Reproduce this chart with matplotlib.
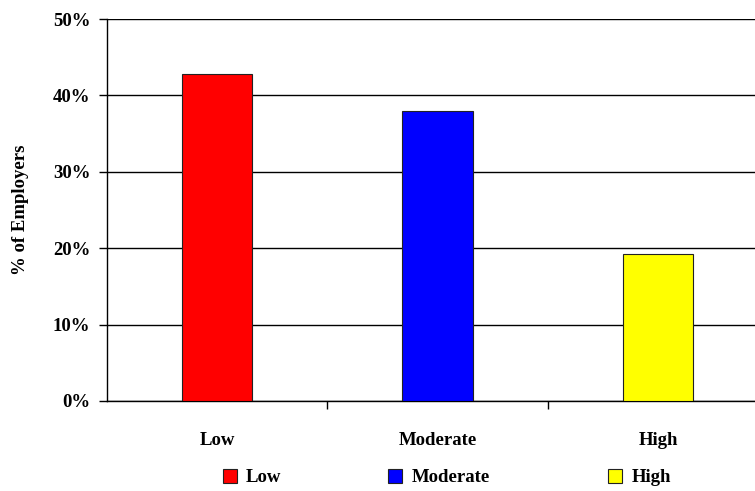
import matplotlib
matplotlib.use("Agg")
import matplotlib.pyplot as plt
from matplotlib.patches import Patch
from matplotlib.ticker import FixedLocator, PercentFormatter

categories = ["Low", "Moderate", "High"]
values = [42.8, 38.0, 19.2]
colors = ["#ff0000", "#0000ff", "#ffff00"]
yticks = [0, 10, 20, 30, 40, 50]

plt.rcParams["font.family"] = ["Liberation Serif", "DejaVu Serif"]
plt.rcParams["font.weight"] = "bold"

fig = plt.figure(figsize=(7.55, 4.91), dpi=100)
ax = fig.add_axes([0.1417, 0.1833, 0.876, 0.778])

x = range(len(categories))
ax.bar(x, values, width=0.32, color=colors, edgecolor="#222222", lw=0.8,
       zorder=3)

ax.set_xlim(-0.5, len(categories) - 0.5)
ax.set_ylim(0, 50)
ax.set_yticks(yticks)
ax.yaxis.set_major_formatter(PercentFormatter(decimals=0))
ax.grid(axis="y", color="black", lw=1.0, zorder=0)

ax.set_xticks(list(x))
ax.set_xticklabels(categories, fontsize=13.5, fontweight="bold")
ax.tick_params(axis="x", which="major", length=0, pad=22)
ax.xaxis.set_minor_locator(FixedLocator([0.5, 1.5]))
ax.tick_params(axis="x", which="minor", length=6, width=1.0, direction="out")
ax.tick_params(axis="y", length=6, width=1.0, labelsize=13.5, pad=6)
for lbl in ax.get_yticklabels():
    lbl.set_fontweight("bold")

for side in ("top", "right"):
    ax.spines[side].set_visible(False)
ax.spines["left"].set_linewidth(1.0)
ax.spines["bottom"].set_linewidth(1.0)

ax.set_ylabel("% of Employers", fontsize=13.5, fontweight="bold", labelpad=17)

# one legend per entry so each sits under its own category
for name, col, xpos in zip(categories, colors, [0.295, 0.514, 0.805]):
    fig.legend([Patch(facecolor=col, edgecolor="#222222", lw=0.8)], [name],
               loc="center left", bbox_to_anchor=(xpos, 0.027),
               frameon=False, borderpad=0, borderaxespad=0,
               prop=dict(size=13.5, weight="bold"),
               handlelength=0.75, handleheight=0.75, handletextpad=0.5)

fig.savefig("out.png", dpi=100)
